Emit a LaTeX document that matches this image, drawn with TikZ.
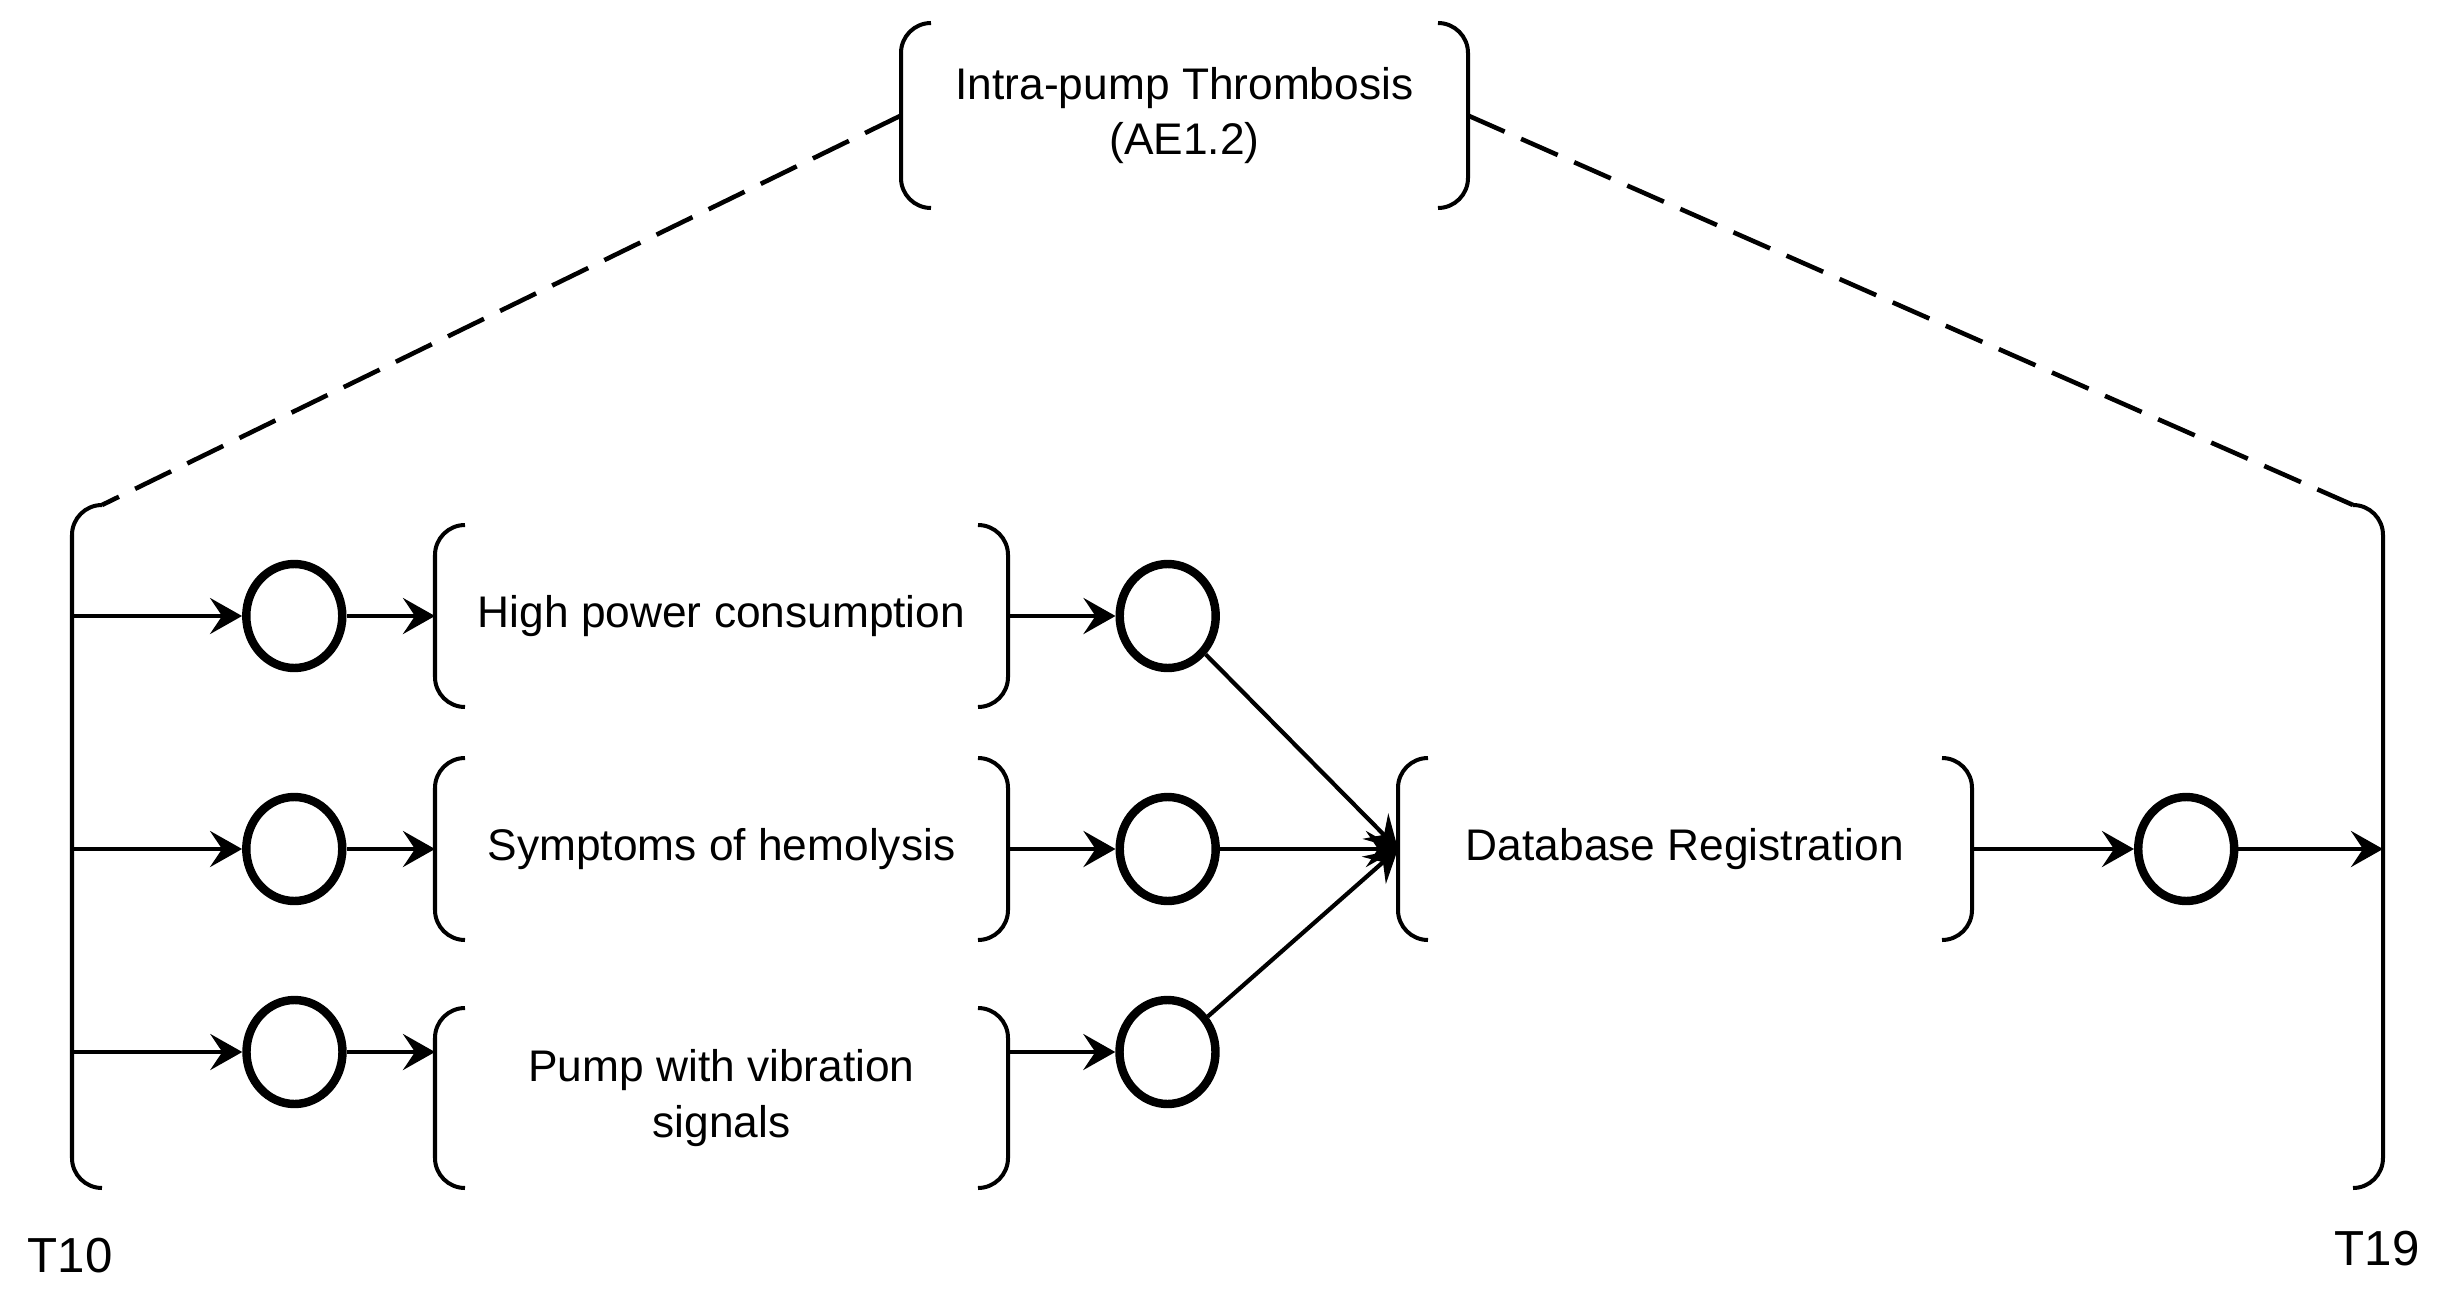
\documentclass[tikz,border=0pt]{standalone}
\usepackage{fontspec}
\setmainfont{Liberation Sans}
\usetikzlibrary{arrows.meta,positioning,shapes.geometric}
\tikzset{
dotstyle/.style={
  ellipse,
  line width=2.4pt,
  inner sep=0pt,
  minimum width=0.96cm,
  minimum height=1.04cm,
  draw=black,
  }
}
\tikzset{
boxstyle/.style={
  rectangle,
  inner sep=0pt,
  outer sep=0pt,
  align=center,
  minimum width=5.73cm,
  minimum height=1.82cm,
  font=\fontsize{12.6}{15.9}\selectfont,
  }
}
\tikzset{
myline/.style={
  line width=1.2pt,
  -{Stealth[length=3.2mm,width=3.6mm,inset=1.2mm]}
  }
}
\tikzset{
bracketline/.style={
  line width=1.14pt,
  rounded corners=3mm,
  }
}
\tikzset{
dashline/.style={
  line width=1.3pt,
  dash pattern=on 4mm off 1.8mm,
  }
}
\newcommand{\drawbrackets}[1]{%
  \draw[bracketline] ([xshift=3mm]#1.north west) -- (#1.north west) -- (#1.south west) -- ([xshift=3mm]#1.south west);
  \draw[bracketline] ([xshift=-3mm]#1.north east) -- (#1.north east) -- (#1.south east) -- ([xshift=-3mm]#1.south east);
}

\begin{document}
\begin{tikzpicture}
    \useasboundingbox (0,0) rectangle (24.38,-12.99);

    % event on top
    \node[boxstyle, minimum width=5.67cm, minimum height=1.85cm] (thromb) at (11.845,-1.155) {Intra-pump Thrombosis\\(AE1.2)};

    % time span
    \node[boxstyle, minimum width=23.11cm, minimum height=6.83cm] (span) at (12.275,-8.465) {};
    \node[font=\fontsize{14}{17}\selectfont] (tten) at (0.70,-12.56) {T10};
    \node[font=\fontsize{14}{17}\selectfont] (tnineteen) at (23.77,-12.49) {T19};

    % findings
    \node[boxstyle] (hpc) at (7.215,-6.16) {High power consumption};
    \node[boxstyle] (soh) at (7.215,-8.49) {Symptoms of hemolysis};
    \node[boxstyle, minimum height=1.80cm] (pwv) at (7.215,-10.98) {Pump with vibration\\signals};
    \node[boxstyle, minimum width=5.74cm] (dbr) at (16.85,-8.49) {Database Registration};

    % places
    \node[dotstyle, left=0.885cm of hpc] (lc1) {};
    \node[dotstyle, left=0.885cm of soh] (lc2) {};
    \node[dotstyle] (lc3) at (2.945,-10.52) {};
    \node[dotstyle, right=1.075cm of hpc] (rc1) {};
    \node[dotstyle, right=1.075cm of soh] (rc2) {};
    \node[dotstyle] (rc3) at (11.675,-10.52) {};
    \node[dotstyle, right=1.62cm of dbr] (fc) {};

    % brackets
    \drawbrackets{thromb}
    \drawbrackets{span}
    \drawbrackets{hpc}
    \drawbrackets{soh}
    \drawbrackets{pwv}
    \drawbrackets{dbr}

    % zoom lines
    \draw[dashline] (thromb.west) -- ([xshift=3mm]span.north west);
    \draw[dashline] (thromb.east) -- ([xshift=-3mm]span.north east);

    % input edges
    \draw[myline] (span.west |- lc1) -- (lc1);
    \draw[myline] (span.west |- lc2) -- (lc2);
    \draw[myline] (span.west |- lc3) -- (lc3);
    \draw[myline] (lc1) -- (hpc);
    \draw[myline] (lc2) -- (soh);
    \draw[myline] (lc3) -- (lc3 -| pwv.west);

    % output edges
    \draw[myline] (hpc) -- (rc1);
    \draw[myline] (soh) -- (rc2);
    \draw[myline] (pwv.east |- rc3) -- (rc3);
    \draw[myline] (rc1) -- (dbr.west);
    \draw[myline] (rc2) -- (dbr.west);
    \draw[myline] (rc3) -- (dbr.west);
    \draw[myline] (dbr) -- (fc);
    \draw[myline] (fc) -- (fc -| span.east);
\end{tikzpicture}
\end{document}
